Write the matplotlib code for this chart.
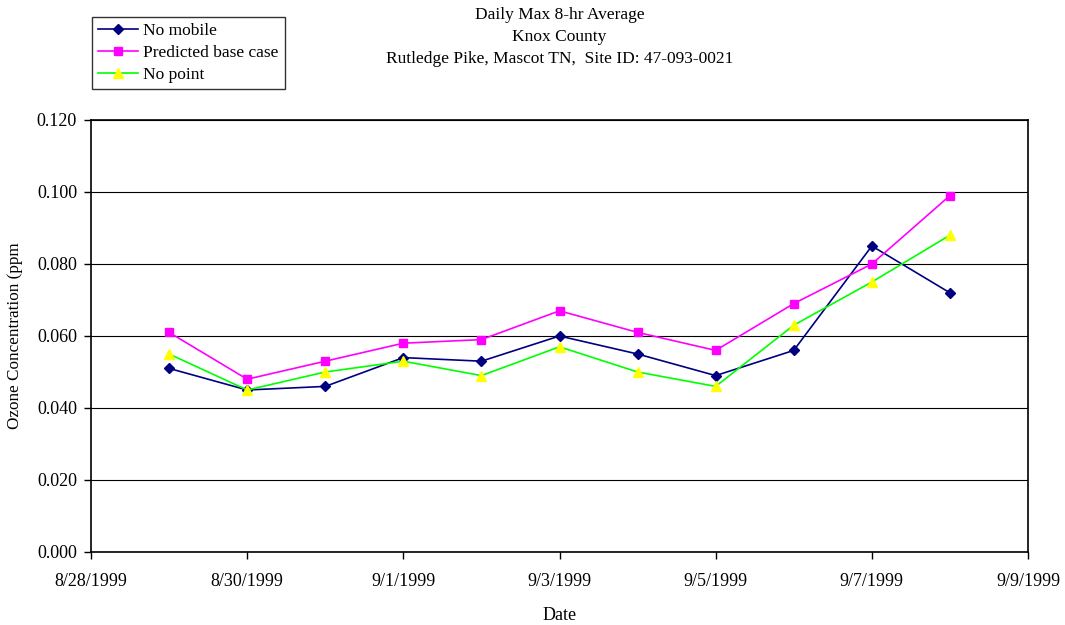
import datetime as dt
import numpy as np
import matplotlib.pyplot as plt
import matplotlib.dates as mdates
from matplotlib.ticker import FuncFormatter

plt.rcParams['font.family'] = ['Liberation Serif', 'DejaVu Serif']

dates = [dt.date(1999, 8, 29) + dt.timedelta(days=i) for i in range(11)]
no_mobile = [0.051, 0.045, 0.046, 0.054, 0.053, 0.060, 0.055, 0.049, 0.056, 0.085, 0.072]
base_case = [0.061, 0.048, 0.053, 0.058, 0.059, 0.067, 0.061, 0.056, 0.069, 0.080, 0.099]
no_point = [0.055, 0.045, 0.050, 0.053, 0.049, 0.057, 0.050, 0.046, 0.063, 0.075, 0.088]

fig = plt.figure(figsize=(10.65, 6.25), dpi=100)
ax = fig.add_axes([91/1065, 73/625, 937/1065, 432/625])

ax.plot(dates, no_mobile, color='#000080', lw=1.2, marker='D', ms=5,
        mfc='#000080', mec='#000080', label='No mobile')
ax.plot(dates, base_case, color='#FF00FF', lw=1.2, marker='s', ms=5.5,
        mfc='#FF00FF', mec='#FF00FF', label='Predicted base case')
ax.plot(dates, no_point, color='#00FF00', lw=1.2, marker='^', ms=6.5,
        mfc='#FFFF00', mec='#FFFF00', label='No point')

ax.set_xlim(mdates.date2num(dt.date(1999, 8, 28)), mdates.date2num(dt.date(1999, 9, 9)))
ax.set_ylim(0, 0.12)
ax.set_yticks(np.arange(0, 0.121, 0.02))
ax.yaxis.set_major_formatter(FuncFormatter(lambda v, p: f'{v:.3f}'))
ax.xaxis.set_major_locator(mdates.DayLocator(interval=2))
ax.xaxis.set_major_formatter(FuncFormatter(
    lambda v, p: (lambda d: f'{d.month}/{d.day}/{d.year}')(mdates.num2date(v))))
ax.tick_params(direction='out', length=5, width=1, labelsize=13, colors='black', pad=5)
ax.tick_params(axis='x', pad=10)
ax.grid(axis='y', color='black', lw=0.8)
ax.set_axisbelow(True)
for s in ax.spines.values():
    s.set_linewidth(1.2)

ax.set_ylabel('Ozone Concentration (ppm', fontsize=12.3, labelpad=10)
ax.set_xlabel('Date', fontsize=13, labelpad=12)

fig.text(559.5/1065, 1 - 7/625,
         'Daily Max 8-hr Average\nKnox County\nRutledge Pike, Mascot TN,  Site ID: 47-093-0021',
         ha='center', va='top', fontsize=12.5, linespacing=1.5)

leg = fig.legend(loc='upper left', bbox_to_anchor=(92/1065, 1 - 17/625), fontsize=12.5,
                 frameon=True, fancybox=False, edgecolor='black', borderpad=0.35,
                 labelspacing=0.32, handlelength=2.3, handletextpad=0.3, borderaxespad=0)
leg.get_frame().set_linewidth(1.0)

fig.savefig('out.png', dpi=100)
